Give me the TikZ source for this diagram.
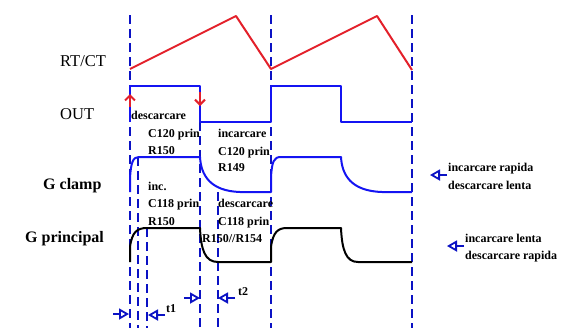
\documentclass[tikz,border=0pt]{standalone}
\usepackage{fontspec}
\setmainfont{Liberation Serif}
\usetikzlibrary{arrows.meta,positioning}
\definecolor{Guide}{HTML}{0B12C4}
\definecolor{Wave}{HTML}{1414F2}
\definecolor{Saw}{HTML}{E3202A}
\newcommand{\guide}[2]{
  \draw[Guide, line width=2.1pt, dash pattern=on 9pt off 5pt] (#1,#2) -- (#1,328);
}
\newcommand{\tright}[2]{
  \draw[Guide, line width=1.8pt, -{Triangle[open,length=10pt,width=11pt]}] (#1-16,#2) -- (#1,#2);
}
\newcommand{\tleft}[2]{
  \draw[Guide, line width=1.8pt, -{Triangle[open,length=10pt,width=11pt]}] (#1+17,#2) -- (#1,#2);
}
\tikzset{
  sig/.style={font=\fontsize{16.5}{18}\selectfont, anchor=base west, inner sep=0pt},
  gsig/.style={font=\fontsize{16}{18}\selectfont\bfseries, anchor=base west, inner sep=0pt},
  note/.style={font=\fontsize{12}{14}\selectfont\bfseries, anchor=base west, inner sep=0pt},
  wave/.style={line width=2pt, line join=round}
}

\begin{document}
\begin{tikzpicture}[x=1pt, y=-1pt]
        \useasboundingbox (0,0) rectangle (576,333);
        \guide{130}{15}
        \guide{271}{15}
        \guide{412}{15}
        \guide{138}{157}
        \guide{147}{228}
        \guide{200}{122}
        \guide{218}{192}
        \draw[wave, Saw] (130,69) -- (236,16) -- (271,69) -- (377,16) -- (412,70);
        \draw[wave, Wave] (130,122) -- (130,86) -- (200,86) -- (200,122) -- (271,122)
          -- (271,86) -- (341,86) -- (341,122) -- (412,122);
        \draw[wave, Wave] (130,192) -- (130,178) .. controls (131,162) and (133,157) .. (139,157)
          -- (200,157) .. controls (201,175) and (210,191) .. (240,192) -- (271,192)
          -- (271,177) .. controls (272,161) and (274,157) .. (281,157)
          -- (341,157) .. controls (342,175) and (351,191) .. (382,192) -- (412,192);
        \draw[wave, black] (130,262) -- (130,247) .. controls (132,232) and (137,228) .. (147,228)
          -- (200,228) .. controls (201,250) and (205,262) .. (218,262) -- (271,262)
          -- (271,247) .. controls (273,232) and (278,228) .. (287,228)
          -- (341,228) .. controls (342,250) and (346,262) .. (358,262) -- (412,262);
        \draw[Saw, line width=2pt, -{Straight Barb[length=5pt,width=10pt]}] (130,107) -- (130,94);
        \draw[Saw, line width=2pt, -{Straight Barb[length=5pt,width=10pt]}] (200,92) -- (200,106);
        \node[sig] (rtct) at (60,66) {RT/CT};
        \node[sig] (out) at (60,119) {OUT};
        \node[gsig] (gclamp) at (43,189) {G clamp};
        \node[gsig] (gprin) at (25,242) {G principal};
        \node[note] (dsc1) at (131,119) {descarcare};
        \node[note] (c120a) at (148,137) {C120 prin};
        \node[note] (r150a) at (148,154) {R150};
        \node[note] (inc1) at (218,137) {incarcare};
        \node[note] (c120b) at (218,155) {C120 prin};
        \node[note] (r149) at (218,171) {R149};
        \node[note] (inca) at (148,190) {inc.};
        \node[note] (c118a) at (148,207) {C118 prin};
        \node[note] (r150b) at (148,225) {R150};
        \node[note] (dsc2) at (218,207) {descarcare};
        \node[note] (c118b) at (218,225) {C118 prin};
        \node[note] (r150c) at (202,242) {R150//R154};
        \node[note] (fastup) at (448,171) {incarcare rapida};
        \node[note] (slowdn) at (448,189) {descarcare lenta};
        \node[note] (slowup) at (465,242) {incarcare lenta};
        \node[note] (fastdn) at (465,259) {descarcare rapida};
        \draw[Guide, line width=1.8pt, -{Triangle[open,length=10pt,width=11pt]}] (fastup.base west) ++(-1,4) -- ++(-17,0);
        \draw[Guide, line width=1.8pt, -{Triangle[open,length=10pt,width=11pt]}] (slowup.base west) ++(-1,4) -- ++(-17,0);
        \tright{129}{314}
        \tleft{148}{315}
        \tright{200}{298}
        \tleft{218}{298}
        \node[note] (t1) at (166,312) {t1};
        \node[note] (t2) at (238,295) {t2};
      \end{tikzpicture}
\end{document}
